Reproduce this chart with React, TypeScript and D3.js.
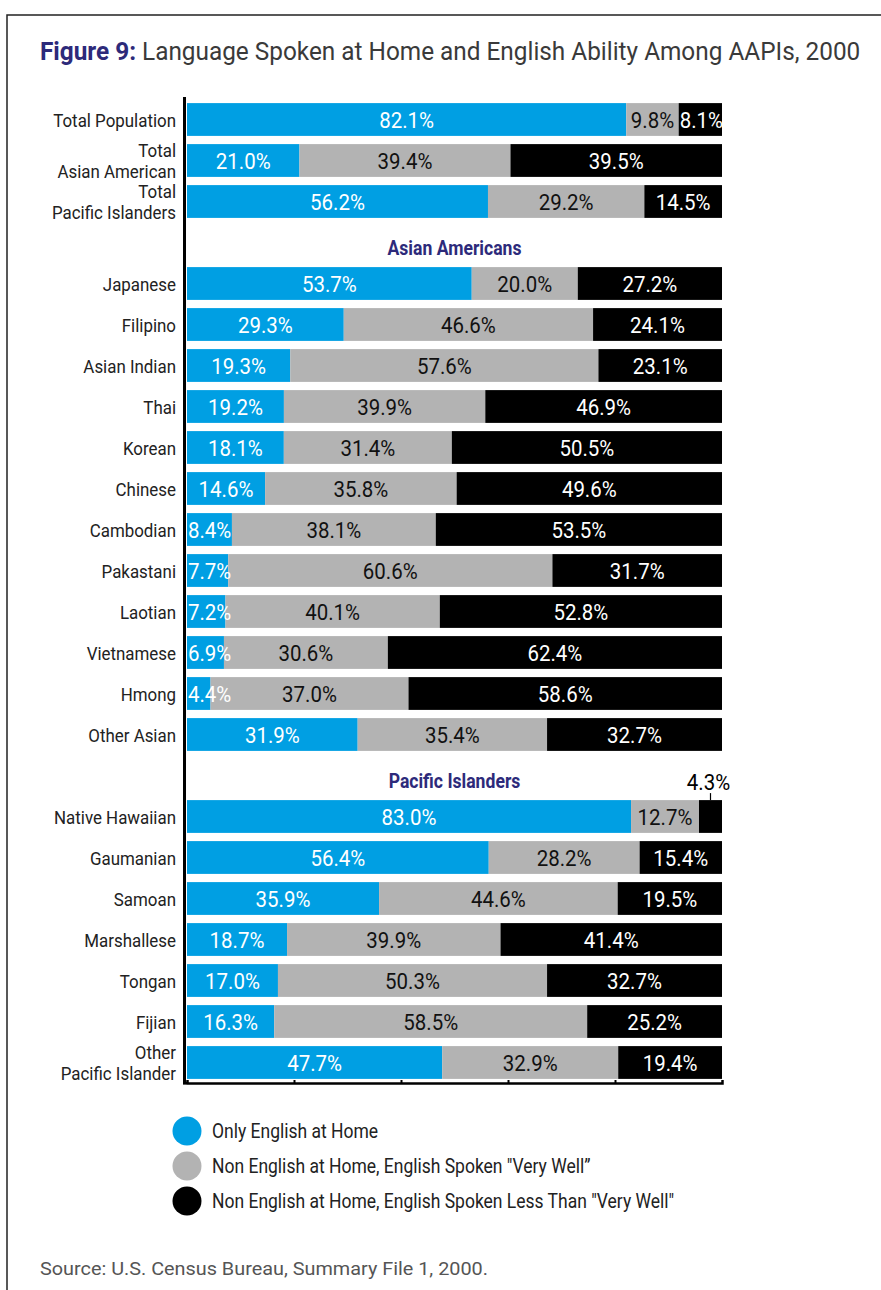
import { useEffect, useRef } from "react";
import * as d3 from "d3";

const totalGroups = ["Total Population", "Total|Asian American", "Total|Pacific Islanders"];
const asianGroups = [
  "Japanese", "Filipino", "Asian Indian", "Thai", "Korean", "Chinese",
  "Cambodian", "Pakastani", "Laotian", "Vietnamese", "Hmong", "Other Asian",
];
const pacificGroups = [
  "Native Hawaiian", "Gaumanian", "Samoan", "Marshallese", "Tongan", "Fijian",
  "Other|Pacific Islander",
];
const sectionTitles = ["Asian Americans", "Pacific Islanders"];

const onlyEnglish = [
  82.1, 21.0, 56.2,
  53.7, 29.3, 19.3, 19.2, 18.1, 14.6, 8.4, 7.7, 7.2, 6.9, 4.4, 31.9,
  83.0, 56.4, 35.9, 18.7, 17.0, 16.3, 47.7,
];
const veryWell = [
  9.8, 39.4, 29.2,
  20.0, 46.6, 57.6, 39.9, 31.4, 35.8, 38.1, 60.6, 40.1, 30.6, 37.0, 35.4,
  12.7, 28.2, 44.6, 39.9, 50.3, 58.5, 32.9,
];
const lessWell = [
  8.1, 39.5, 14.5,
  27.2, 24.1, 23.1, 46.9, 50.5, 49.6, 53.5, 31.7, 52.8, 62.4, 58.6, 32.7,
  4.3, 15.4, 19.5, 41.4, 32.7, 25.2, 19.4,
];

const legendLabels = [
  "Only English at Home",
  "Non English at Home, English Spoken \"Very Well\u201d",
  "Non English at Home, English Spoken Less Than \"Very Well\"",
];

const keys = ["only", "well", "less"];
const colors = ["#009fe3", "#b3b3b3", "#000000"];
const textColors = ["#ffffff", "#111111", "#ffffff"];
const FONT = "Roboto, 'Liberation Sans', sans-serif";

// slot order: totals, section header, asian, section header, pacific
const groups = [...totalGroups, ...asianGroups, ...pacificGroups];
const slots = [
  ...totalGroups,
  "#" + sectionTitles[0],
  ...asianGroups,
  "#" + sectionTitles[1],
  ...pacificGroups,
];

const rows = groups.map((g, i) => ({
  group: g,
  only: onlyEnglish[i],
  well: veryWell[i],
  less: lessWell[i],
}));

const textW = (s: string) => (s.replace(/[^0-9]/g, "").length * 12.35 + 5.8 + 16.1) * 0.93;

const App = () => {
  const axisRef = useRef<SVGGElement>(null);

  const x = d3.scaleLinear().domain([0, 1]).range([187, 722]);
  const y = d3.scaleBand().domain(slots).range([99, 1083]).paddingInner(0.2).paddingOuter(0.1);
  const bw = y.bandwidth();

  const series = d3
    .stack<any>()
    .keys(keys)
    .offset(d3.stackOffsetExpand)(rows);

  useEffect(() => {
    if (!axisRef.current) return;
    const g = d3.select(axisRef.current);
    g.selectAll("*").remove();
    g.call(
      d3
        .axisBottom(x)
        .tickValues([0.2, 0.4, 0.6, 0.8])
        .tickSize(-3)
        .tickSizeOuter(-3)
        .tickFormat(() => "")
    );
    g.select(".domain").attr("stroke", "#000").attr("stroke-width", 2.5);
    g.selectAll(".tick line").attr("stroke", "#000").attr("stroke-width", 2);
  }, []);

  const scaledText = (
    key: string,
    tx: number,
    ty: number,
    text: string,
    opts: { size: number; sx: number; anchor: string; fill: string; weight?: string }
  ) => (
    <text
      key={key}
      transform={`translate(${tx},${ty}) scale(${opts.sx},1)`}
      textAnchor={opts.anchor}
      fontSize={opts.size}
      fill={opts.fill}
      fontWeight={opts.weight || "normal"}
      fontFamily={FONT}
    >
      {text}
    </text>
  );

  return (
    <svg
      width={881}
      height={1290}
      style={{ position: "absolute", left: 0, top: 0, display: "block", background: "#fff" }}
    >
      <path d="M7,1290 V15 H881" fill="none" stroke="#222" strokeWidth={1.5} />

      <text
        transform="translate(40,60) scale(0.93,1)"
        fontSize={25.5}
        fontFamily={FONT}
        textLength={882}
        lengthAdjust="spacingAndGlyphs"
      >
        <tspan fill="#2d2a7a" fontWeight="bold">Figure 9:</tspan>
        <tspan fill="#3a3a3a"> Language Spoken at Home and English Ability Among AAPIs, 2000</tspan>
      </text>

      {/* bars */}
      {series.map((s, si) => (
        <g key={s.key} fill={colors[si]}>
          {s.map((d, i) => (
            <rect
              key={i}
              x={x(d[0])}
              y={y(groups[i])!}
              width={x(d[1]) - x(d[0])}
              height={bw}
            />
          ))}
        </g>
      ))}

      {/* value labels */}
      {series.map((s, si) =>
        s.map((d, i) => {
          const val = [onlyEnglish, veryWell, lessWell][si][i];
          const label = val.toFixed(1) + "%";
          const x0 = x(d[0]);
          const x1 = x(d[1]);
          const cy = y(groups[i])! + bw / 2;
          const w = textW(label);
          const opts = { size: 22, sx: 0.93, anchor: "middle", fill: textColors[si] };
          if (si === 2 && x1 - x0 < 30) {
            const cx = (x0 + x1) / 2;
            return (
              <g key={`v${si}-${i}`}>
                <line x1={cx} x2={cx} y1={cy - bw / 2 - 7} y2={cy - bw / 2} stroke="#000" strokeWidth={1.2} />
                {scaledText("t", cx - 2, cy - bw / 2 - 10, label, { ...opts, fill: "#000" })}
              </g>
            );
          }
          let cx = (x0 + x1) / 2;
          if (cx - w / 2 < x0 + 1) cx = x0 + 1 + w / 2;
          return scaledText(`v${si}-${i}`, cx, cy + 8, label, opts);
        })
      )}

      {/* category labels */}
      {groups.map((g) => {
        const cy = y(g)! + bw / 2;
        const parts = g.split("|");
        const opts = { size: 19, sx: 0.89, anchor: "end", fill: "#222" };
        if (parts.length === 1) return scaledText(g, 176, cy + 7, g, opts);
        return (
          <g key={g}>
            {scaledText("a", 176, cy - 3.5, parts[0], opts)}
            {scaledText("b", 176, cy + 17.5, parts[1], opts)}
          </g>
        );
      })}

      {/* section headers */}
      {sectionTitles.map((t) =>
        scaledText(t, (x.range()[0] + x.range()[1]) / 2, y("#" + t)! + bw / 2 + 12.5, t, {
          size: 20,
          sx: 0.88,
          anchor: "middle",
          fill: "#2d2a7a",
          weight: "bold",
        })
      )}

      {/* axes */}
      <line x1={184.5} x2={184.5} y1={97} y2={1084.5} stroke="#000" strokeWidth={3} />
      <g ref={axisRef} transform={`translate(0,1083)`} />
      <line x1={183} x2={187} y1={1083} y2={1083} stroke="#000" strokeWidth={2.5} />

      {/* legend */}
      {legendLabels.map((l, i) => (
        <g key={l}>
          <circle cx={187} cy={1131 + i * 35} r={14.5} fill={colors[i]} />
          {scaledText(l, 212, 1131 + i * 35 + 7, l, { size: 20, sx: 0.875, anchor: "start", fill: "#222" })}
        </g>
      ))}

      <text
        x={40}
        y={1275}
        fontSize={19}
        fontFamily={FONT}
        fill="#555"
        textLength={448}
        lengthAdjust="spacingAndGlyphs"
      >
        Source: U.S. Census Bureau, Summary File 1, 2000.
      </text>
    </svg>
  );
};

export default App;
